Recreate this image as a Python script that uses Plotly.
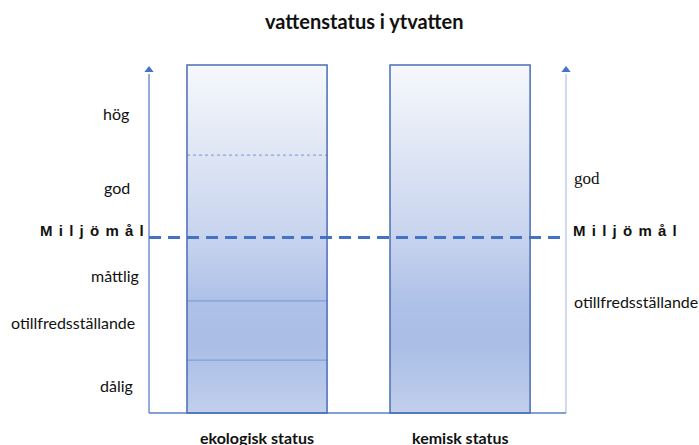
import numpy as np
import plotly.graph_objects as go

# ---------------- data ----------------
title_text = "vattenstatus i ytvatten"
categories = ["ekologisk status", "kemisk status"]
eko_levels = ["hög", "god", "måttlig", "otillfredsställande", "dålig"]
eko_label_values = [86.2, 64.7, 39.4, 25.9, 7.8]
eko_boundaries = [74.1, 32.2, 15.2]
kem_levels = ["god", "otillfredsställande"]
kem_label_values = [67.5, 31.9]
miljomal_label = "Miljömål"
miljomal_value = 50.4
scale_min, scale_max = 0, 100

# ---------------- layout constants ----------------
cat_pos = [0, 1]
half_w = 0.345
axis_left = -0.532
axis_right = 1.522
arrow_top = 98.6
line_top = 97.4
x_range = [-1.266, 2.177]
y_range = [-9.195, 118.68]

grad_scale = [
    [0.0, "#c2cfec"], [0.1, "#b4c6e9"], [0.2, "#aabee6"], [0.32, "#aec1e7"],
    [0.5, "#c7d3ee"], [0.75, "#dfe6f4"], [1.0, "#f6f8fc"],
]
BORDER = "#4a6db5"
BLUE = "#4472c4"

fig = go.Figure()

# gradient-filled boxes
edges = np.linspace(scale_min, scale_max, 201)
centers = (edges[:-1] + edges[1:]) / 2
for c in cat_pos:
    fig.add_trace(go.Heatmap(
        x=[c - half_w, c + half_w], y=edges, z=centers.reshape(-1, 1),
        colorscale=grad_scale, zmin=scale_min, zmax=scale_max,
        showscale=False, hoverinfo="skip", zsmooth=False))

# internal class boundaries in ekologisk box
for i, b in enumerate(eko_boundaries):
    fig.add_trace(go.Scatter(
        x=[cat_pos[0] - half_w, cat_pos[0] + half_w], y=[b, b], mode="lines",
        line=dict(color="#8ba4d6" if i == 0 else "#7f9ed8", width=1.2,
                  dash="dot" if i == 0 else "solid"),
        hoverinfo="skip"))

# box borders
for c in cat_pos:
    fig.add_shape(type="rect", xref="x", yref="y",
                  x0=c - half_w, x1=c + half_w, y0=scale_min, y1=scale_max,
                  line=dict(color=BORDER, width=1.5), fillcolor="rgba(0,0,0,0)",
                  layer="above")

# axes lines
fig.add_trace(go.Scatter(x=[axis_left, axis_left], y=[scale_min, line_top], mode="lines",
                         line=dict(color="#5b7fc7", width=1.3), hoverinfo="skip"))
fig.add_trace(go.Scatter(x=[axis_right, axis_right], y=[scale_min, line_top], mode="lines",
                         line=dict(color="#b7c8e8", width=1.3), hoverinfo="skip"))
fig.add_trace(go.Scatter(x=[axis_left, axis_right], y=[scale_min, scale_min], mode="lines",
                         line=dict(color="#5b7fc7", width=1.3), hoverinfo="skip"))
fig.add_trace(go.Scatter(x=[axis_left, axis_right], y=[arrow_top, arrow_top], mode="markers",
                         marker=dict(symbol="triangle-up", size=8, color=BLUE), hoverinfo="skip"))

# Miljömål dashed line
fig.add_trace(go.Scatter(x=[axis_left, axis_right], y=[miljomal_value, miljomal_value],
                         mode="lines", line=dict(color=BLUE, width=3, dash="12px,7px"),
                         hoverinfo="skip"))

SANS = "Lato, 'Open Sans', sans-serif"
ann = []
# left level labels
left_shift = [-33, -32, -34, -12, -33]
left_anchor = ["center", "center", "center", "right", "center"]
for lab, v, s, a in zip(eko_levels, eko_label_values, left_shift, left_anchor):
    ann.append(dict(x=axis_left, y=v, xref="x", yref="y", text=lab, showarrow=False,
                    xanchor=a, yanchor="middle", xshift=s,
                    font=dict(family=SANS, size=16, color="#111")))
# right level labels
right_fonts = ["'Liberation Serif', serif", SANS]
right_sizes = [17, 16]
for lab, v, f, sz in zip(kem_levels, kem_label_values, right_fonts, right_sizes):
    ann.append(dict(x=axis_right, y=v, xref="x", yref="y", text=lab, showarrow=False,
                    xanchor="left", yanchor="middle", xshift=6,
                    font=dict(family=f, size=sz, color="#111")))
# Miljömål labels
spaced = "\u2004\u200a".join(miljomal_label)
ann.append(dict(x=axis_left, y=miljomal_value, xref="x", yref="y", text="<b>" + spaced + "</b>",
                showarrow=False, xanchor="right", yanchor="bottom", xshift=-3, yshift=-3,
                font=dict(family="'Liberation Sans', Arial, sans-serif", size=15, color="#111")))
ann.append(dict(x=axis_right, y=miljomal_value, xref="x", yref="y", text="<b>" + spaced + "</b>",
                showarrow=False, xanchor="left", yanchor="bottom", xshift=5, yshift=-3,
                font=dict(family="'Liberation Sans', Arial, sans-serif", size=15, color="#111")))
# category labels
for c, lab in zip(cat_pos, categories):
    ann.append(dict(x=c, y=0.016, xref="x", yref="paper", text="<b>" + lab + "</b>",
                    showarrow=False, xanchor="center", yanchor="middle",
                    font=dict(family=SANS, size=16, color="#111")))
# title
ann.append(dict(x=0.522, y=0.952, xref="paper", yref="paper", text="<b>" + title_text + "</b>",
                showarrow=False, xanchor="center", yanchor="middle",
                font=dict(family=SANS, size=20, color="#111")))

fig.update_layout(
    width=699, height=445, margin=dict(l=0, r=0, t=0, b=0),
    paper_bgcolor="white", plot_bgcolor="white", showlegend=False,
    xaxis=dict(range=x_range, visible=False, fixedrange=True),
    yaxis=dict(range=y_range, visible=False, fixedrange=True),
    annotations=ann,
)

fig.write_html("out.html", config={"displayModeBar": False},
               post_script="document.body.style.margin='0';document.body.style.overflow='hidden';")
